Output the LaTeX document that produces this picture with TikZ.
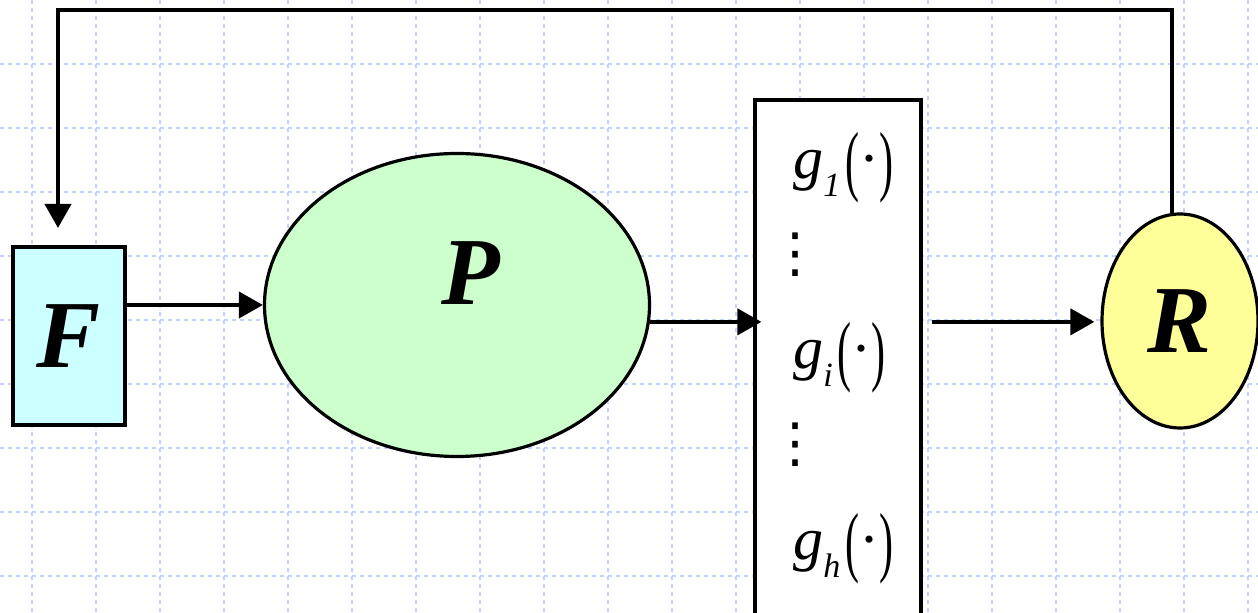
\documentclass[tikz,border=0pt]{standalone}
\usepackage{graphicx}
\usepackage{fontspec}
\setmainfont{LiberationSerif}[Extension=.ttf, UprightFont=*-Regular, BoldFont=*-Bold,
  ItalicFont=*-Italic, BoldItalicFont=*-BoldItalic]
\newfontfamily\symfont{DejaVu Sans}
\usetikzlibrary{shapes.geometric,arrows.meta}

\definecolor{fcyan}{RGB}{204,255,255}
\definecolor{pgreen}{RGB}{204,255,204}
\definecolor{ryellow}{RGB}{255,255,153}
\definecolor{gridblue}{RGB}{196,208,255}

% g_k(.) with tall brackets
\newcommand{\gfun}[1]{\textit{g}\raisebox{-9pt}{\fontsize{17}{17}\selectfont\textit{#1}}\kern2.5pt%
  \raisebox{-4pt}{\scalebox{0.7}[1.3]{(}}\textperiodcentered\raisebox{-4pt}{\scalebox{0.7}[1.3]{)}}}

\begin{document}
\begin{tikzpicture}[x=0.5pt,y=-0.5pt,
    grid line/.style={draw=gridblue, line width=1pt, dash pattern=on 2pt off 2pt},
    block/.style={draw, line width=1.6pt, inner sep=0pt},
    letter/.style={font=\fontsize{48}{48}\selectfont\bfseries\itshape},
    gtext/.style={font=\fontsize{30}{30}\selectfont, anchor=base west, inner sep=0pt},
    dot column/.style={font=\symfont\fontsize{27}{27}\selectfont, inner sep=0pt},
    signal/.style={line width=2pt, -{Triangle[length=12pt,width=13pt]}}
]

\useasboundingbox (0,0) rectangle (1258,613);

% --- Background grid ---
\foreach \gx in {32,96,...,1248}
    \draw[grid line] (\gx,0) -- (\gx,613);
\foreach \gy in {64,128,...,576}
    \draw[grid line] (0,\gy) -- (1258,\gy);

% --- Blocks ---
\node[block, fill=fcyan, minimum width=56pt, minimum height=89pt, letter] (fbox) at (69,336) {F};
\node[block, ellipse, fill=pgreen, minimum width=192.5pt, minimum height=151.5pt] (plant) at (457,305) {};
\node[letter] (plabel) at (471,273) {P};
\node[block, fill=white, minimum width=83pt, minimum height=270pt] (gbank) at (838,370) {};
\node[block, ellipse, fill=ryellow, minimum width=78pt, minimum height=107pt, letter] (rnode) at (1180,321) {R};

% --- Output functions ---
\node[gtext] (g1) at (793,179) {\gfun{1}};
\node[dot column] (d1) at (795,255) {⋮};
\node[gtext] (gi) at (793,369) {\gfun{i}};
\node[dot column] (d2) at (795,445) {⋮};
\node[gtext] (gh) at (793,560) {\gfun{h}};

% --- Connectors ---
\coordinate (ftop) at (58,10);
\coordinate (fin) at (58,228);
\draw[signal] (rnode.94) |- (ftop) -- (fin);

\draw[signal] (fbox.east |- plant.west) -- (plant.west);
\draw[signal, shorten >=-4pt] (plant.-5) -- (plant.-5 -| gbank.west);

\coordinate (gout) at ([xshift=4.5pt]gbank.east |- plant.-5);
\draw[signal, shorten >=3pt] (gout) -- (gout -| rnode.west);

\end{tikzpicture}
\end{document}
